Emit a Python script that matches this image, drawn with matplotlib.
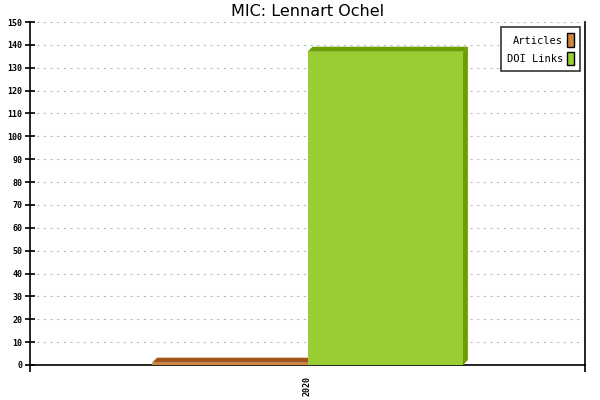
import numpy as np
import matplotlib
matplotlib.use("Agg")
import matplotlib.pyplot as plt
from matplotlib.patches import Patch

# ---- data ----
years = ["2020"]
series_names = ["Articles", "DOI Links"]
articles = [1]
doi_links = [137]

FRONT = ["#cd853f", "#9acd32"]
DARK = ["#a0561a", "#6b9e00"]

fig = plt.figure(figsize=(6, 4), dpi=100)
ax = fig.add_axes([0.05, 0.0875, 0.925, 0.8575])

ax.set_xlim(-0.5, len(years) - 0.5)
ax.set_ylim(0, 150)

# pixel -> data conversion for the fake 3d depth
ax_w_px = 0.925 * 600
ax_h_px = 0.8575 * 400
dx = 5 * (len(years)) / ax_w_px
dy = 5 * 150 / ax_h_px

group_w = 0.56
bar_w = group_w / len(series_names)
x = np.arange(len(years))

for si, vals in enumerate([articles, doi_links]):
    for xi, v in zip(x, vals):
        left = xi - group_w / 2 + si * bar_w
        right = left + bar_w
        # side
        ax.fill([right, right + dx, right + dx, right],
                [0, dy, v + dy, v], color=DARK[si], lw=0, zorder=3)
        # top
        ax.fill([left, left + dx, right + dx, right],
                [v, v + dy, v + dy, v], color=DARK[si], lw=0, zorder=3)
        ax.bar(left, v, width=bar_w, align="edge", color=FRONT[si], lw=0, zorder=4)

# grid
ax.set_yticks(np.arange(0, 151, 10))
ax.yaxis.grid(True, ls=(0, (2, 4)), color="#bbbbbb", lw=0.8)
ax.set_axisbelow(True)

ax.spines["top"].set_visible(False)
for s in ["left", "bottom", "right"]:
    ax.spines[s].set_linewidth(1.2)

ax.tick_params(axis="y", direction="inout", length=7, width=1.2,
               labelsize=6, pad=2)
for lbl in ax.get_yticklabels():
    lbl.set_family("DejaVu Sans Mono")
    lbl.set_weight("bold")

# category boundaries as ticks, year labels without tick
ax.set_xticks(np.arange(-0.5, len(years), 1.0))
ax.set_xticklabels([])
ax.tick_params(axis="x", direction="out", length=5, width=1.2)
ax.set_xticks(x, minor=True)
ax.set_xticklabels(years, minor=True, rotation=90, fontsize=6,
                   family="DejaVu Sans Mono", weight="bold")
ax.tick_params(axis="x", which="minor", length=0, pad=8)

ax.set_title("MIC: Lennart Ochel", fontsize=11.5, pad=4, family="DejaVu Sans")

handles = [Patch(facecolor=FRONT[i], edgecolor="black", lw=1) for i in range(2)]
leg = ax.legend(handles, series_names, loc="upper right", markerfirst=False,
                prop={"family": "DejaVu Sans Mono", "size": 7.5},
                frameon=True, fancybox=False, edgecolor="black",
                handlelength=0.6, handleheight=1.6, handletextpad=0.4,
                labelspacing=0.45, borderpad=0.6, borderaxespad=0.5)
leg.get_frame().set_linewidth(1.2)

fig.savefig("out.png", dpi=100)
